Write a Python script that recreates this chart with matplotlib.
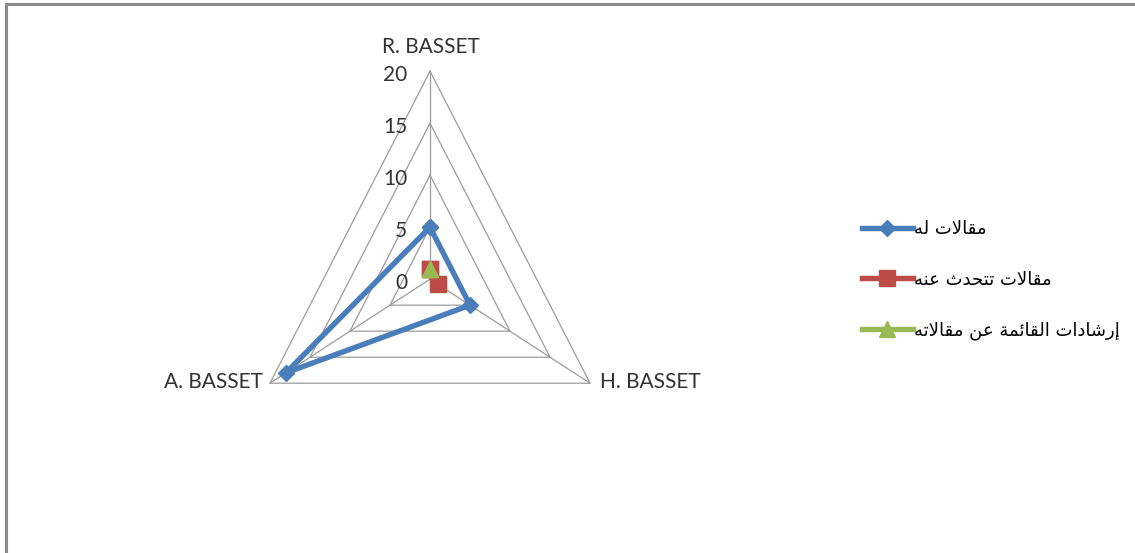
import numpy as np
import matplotlib
matplotlib.use('Agg')
import matplotlib.pyplot as plt
from matplotlib.lines import Line2D

# data
categories = ['R. BASSET', 'H. BASSET', 'A. BASSET']
series_names = ['مقالات له', 'مقالات تتحدث عنه', 'إرشادات القائمة عن مقالاته']
articles_by = [5, 5, 18]
articles_about = [1, 1, np.nan]
guidance = [1, np.nan, np.nan]
levels = [0, 5, 10, 15, 20]
colors = ['#4a7ebb', '#be4b48', '#98b954']
markers = ['D', 's', '^']

# --- arabic shaping (matplotlib draws glyphs left to right, no joining) ---
FORMS = {
    'ا': ('\uFE8D', '\uFE8E', None, None),
    'إ': ('\uFE87', '\uFE88', None, None),
    'ة': ('\uFE93', '\uFE94', None, None),
    'د': ('\uFEA9', '\uFEAA', None, None),
    'ر': ('\uFEAD', '\uFEAE', None, None),
    'ئ': ('\uFE89', '\uFE8A', '\uFE8B', '\uFE8C'),
    'ت': ('\uFE95', '\uFE96', '\uFE97', '\uFE98'),
    'ث': ('\uFE99', '\uFE9A', '\uFE9B', '\uFE9C'),
    'ح': ('\uFEA1', '\uFEA2', '\uFEA3', '\uFEA4'),
    'ش': ('\uFEB5', '\uFEB6', '\uFEB7', '\uFEB8'),
    'ع': ('\uFEC9', '\uFECA', '\uFECB', '\uFECC'),
    'ق': ('\uFED5', '\uFED6', '\uFED7', '\uFED8'),
    'ل': ('\uFEDD', '\uFEDE', '\uFEDF', '\uFEE0'),
    'م': ('\uFEE1', '\uFEE2', '\uFEE3', '\uFEE4'),
    'ن': ('\uFEE5', '\uFEE6', '\uFEE7', '\uFEE8'),
    'ه': ('\uFEE9', '\uFEEA', '\uFEEB', '\uFEEC'),
}
LAM_ALEF = {'ا': ('\uFEFB', '\uFEFC'), 'إ': ('\uFEF9', '\uFEFA')}


def shape(text):
    out = []
    i = 0
    prev_joins = False
    while i < len(text):
        c = text[i]
        if c not in FORMS:
            out.append(c)
            prev_joins = False
            i += 1
            continue
        nxt = text[i + 1] if i + 1 < len(text) else ''
        if c == 'ل' and nxt in LAM_ALEF:
            out.append(LAM_ALEF[nxt][1 if prev_joins else 0])
            prev_joins = False
            i += 2
            continue
        f = FORMS[c]
        dual = f[2] is not None
        next_joins = dual and nxt in FORMS
        if prev_joins and next_joins:
            g = f[3]
        elif prev_joins:
            g = f[1]
        elif next_joins:
            g = f[2]
        else:
            g = f[0]
        out.append(g)
        prev_joins = dual
        i += 1
    return ''.join(reversed(out))


plt.rcParams['font.family'] = ['Lato', 'DejaVu Sans']

fig = plt.figure(figsize=(11.35, 5.53), dpi=100)
ax = fig.add_axes([199 / 1135, 149 / 553, 462 / 1135, 353.6 / 553])
ax.set_xlim(-25, 25)
ax.set_ylim(-12, 22)
ax.axis('off')

theta = np.deg2rad([0, 120, 240])
sx, sy = np.sin(theta), np.cos(theta)
closed = np.append(np.arange(3), 0)

# grid: rings and spokes
grid_col = '#9c9c9c'
for lv in levels[1:]:
    ax.plot(lv * sx[closed], lv * sy[closed], color=grid_col, lw=0.9, zorder=1)
for k in range(3):
    ax.plot([0, levels[-1] * sx[k]], [0, levels[-1] * sy[k]],
            color=grid_col, lw=0.9, zorder=1)

# value labels along the top spoke
for lv in levels:
    ax.annotate(str(lv), (0, lv), xytext=(-16.5, -6.8), textcoords='offset points',
                ha='right', va='baseline', fontsize=15, color='#333333')

# category labels
top = levels[-1]
ax.annotate(categories[0], (top * sx[0], top * sy[0]), xytext=(0.5, 13),
            textcoords='offset points', ha='center', va='baseline',
            fontsize=15, color='#333333')
ax.annotate(categories[1], (top * sx[1], top * sy[1]), xytext=(7, -3.5),
            textcoords='offset points', ha='left', va='baseline',
            fontsize=15, color='#333333')
ax.annotate(categories[2], (top * sx[2], top * sy[2]), xytext=(-5, -3.5),
            textcoords='offset points', ha='right', va='baseline',
            fontsize=15, color='#333333')

# series
all_series = [articles_by, articles_about, guidance]
sizes = [8.5, 11.5, 11.5]
handles = []
for n, vals in enumerate(all_series):
    v = np.array(vals, dtype=float)[closed]
    ln, = ax.plot(v * sx[closed], v * sy[closed], color=colors[n], lw=3.9,
                  marker=markers[n], ms=sizes[n], mec=colors[n], mew=1,
                  zorder=3 + n, label=shape(series_names[n]), clip_on=False)
    handles.append(ln)

fig.legend(handles=handles, loc='center left', bbox_to_anchor=(862 / 1135, 1 - 280 / 553),
           frameon=False, borderpad=0, borderaxespad=0, handlelength=2.8,
           handletextpad=0.08, labelspacing=1.82,
           prop={'family': 'DejaVu Sans', 'size': 13})

# outer frame (only left and top edges visible)
frame_col = '#8c8c8c'
fig.add_artist(Line2D([6 / 1135, 6 / 1135], [0, 1 - 4 / 553], transform=fig.transFigure,
                      color=frame_col, lw=2.2))
fig.add_artist(Line2D([6 / 1135, 1], [1 - 4 / 553, 1 - 4 / 553], transform=fig.transFigure,
                      color=frame_col, lw=2.2))

fig.savefig('out.png', dpi=100)
